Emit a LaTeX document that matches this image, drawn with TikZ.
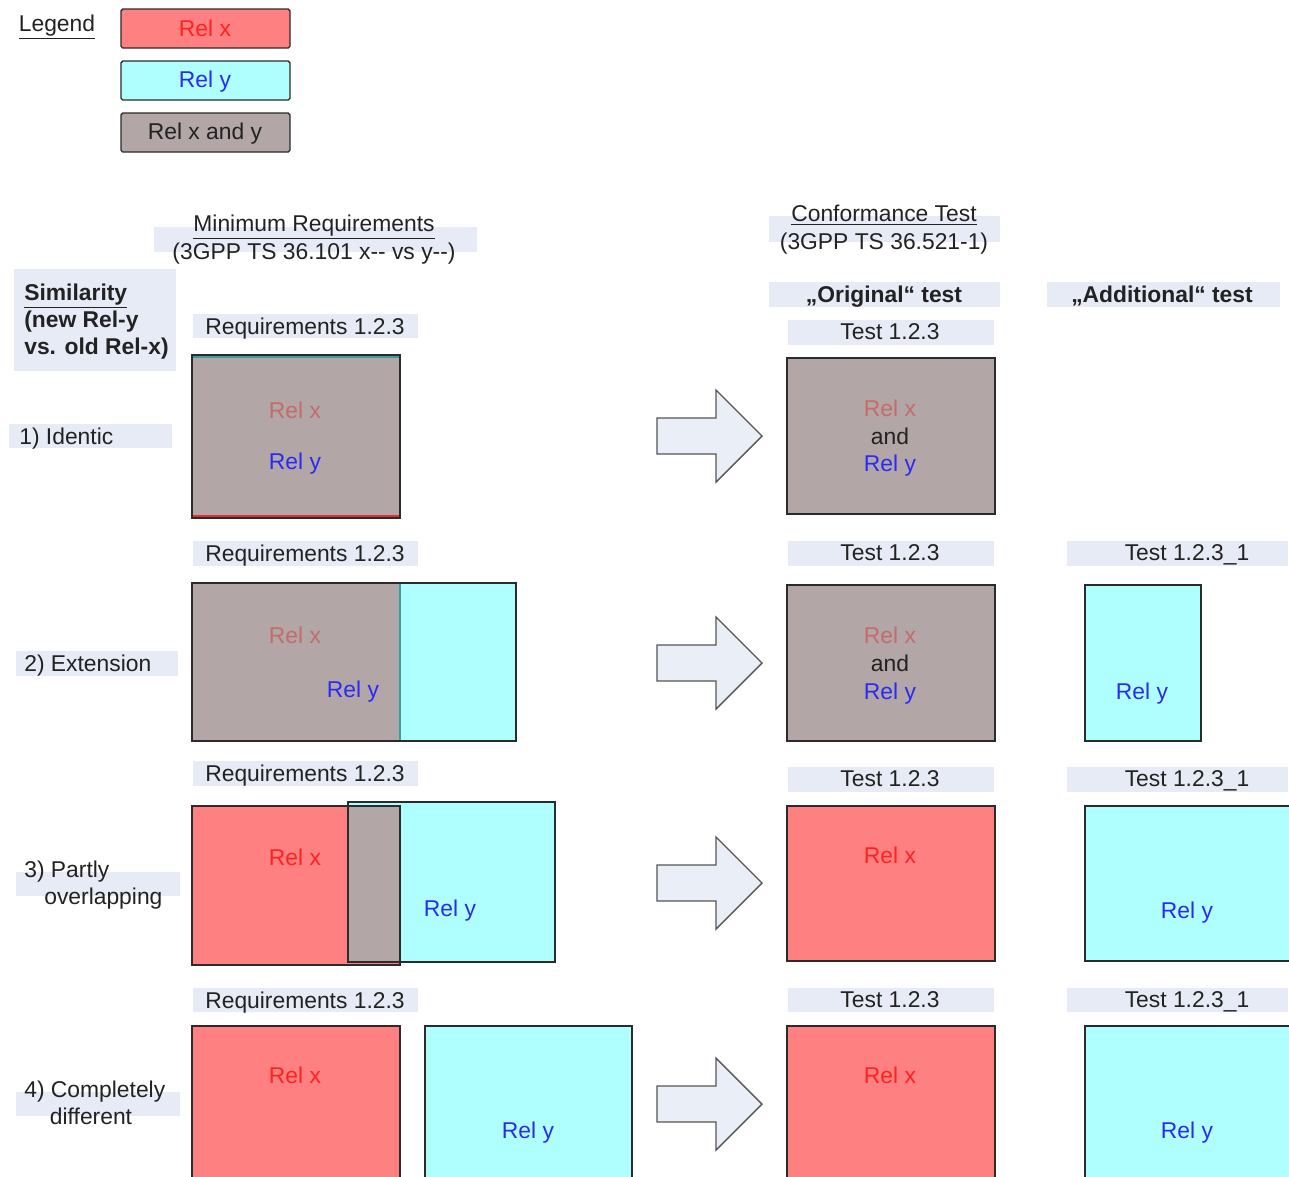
\documentclass[tikz,border=0pt]{standalone}
\usepackage{fontspec}
\setmainfont{Liberation Sans}
\definecolor{relxfill}{HTML}{FF8080}
\definecolor{relyfill}{HTML}{B0FFFF}
\definecolor{bothfill}{HTML}{B2A6A6}
\definecolor{tagbg}{HTML}{E6EBF5}
\definecolor{relxtext}{HTML}{FF2222}
\definecolor{relytext}{HTML}{2A2AF5}
\definecolor{mutedx}{HTML}{C46C6C}
\definecolor{boxline}{HTML}{2B2B2B}
\definecolor{tealline}{HTML}{3E9C9C}
\definecolor{redline}{HTML}{E03030}
\definecolor{arrowfill}{HTML}{E9EEF7}
\definecolor{arrowline}{HTML}{555555}
\definecolor{txt}{HTML}{222222}

\begin{document}
\begin{tikzpicture}[x=0.02cm, y=-0.02cm, font=\fontsize{13}{15.5}\selectfont, text=txt,
    every node/.style={text depth=0pt},
    box/.style={draw=boxline, line width=0.8pt},
    tag/.style={fill=tagbg},
    blockarrow/.style={draw=arrowline, fill=arrowfill, line width=0.8pt, line join=miter}]
    \useasboundingbox (0,0) rectangle (1289,1177);
    \clip (0,0) rectangle (1289,1177);

    % legend
    \node (legend) at (57,23) {\underline{Legend}};
    \draw[box, fill=relxfill, rounded corners=1pt] (121,9) rectangle (290,48);
    \node[text=relxtext] (legx) at (205,28) {Rel x};
    \draw[box, fill=relyfill, rounded corners=1pt] (121,61) rectangle (290,100);
    \node[text=relytext] (legy) at (205,79) {Rel y};
    \draw[box, fill=bothfill, rounded corners=1pt] (121,113) rectangle (290,152);
    \node (legxy) at (205,131) {Rel x and y};

    % column heads
    \fill[tag] (154,227) rectangle (477,252);
    \node (minreq) at (314,223) {\underline{Minimum Requirements}};
    \node (minreqts) at (314,251) {(3GPP TS 36.101 x\mbox{-}\mbox{-} vs y\mbox{-}\mbox{-})};
    \fill[tag] (769,216) rectangle (1000,242);
    \node (conf) at (884,213) {\underline{Conformance Test}};
    \node (confts) at (884,241) {(3GPP TS 36.521-1)};
    \fill[tag] (769,282) rectangle (1000,307);
    \node[font=\fontsize{13}{15.5}\selectfont\bfseries] (orig) at (884,294) {„Original“ test};
    \fill[tag] (1047,282) rectangle (1280,307);
    \node[font=\fontsize{13}{15.5}\selectfont\bfseries] (addl) at (1162,294) {„Additional“ test};

    \fill[tag] (14,269) rectangle (176,371);
    \node[font=\fontsize{13}{15.3}\selectfont\bfseries, align=left, anchor=west, inner sep=0pt] (simil) at (24,319)
        {\underline{Similarity}\\(new Rel-y\\vs. old Rel-x)};

    % arrows
    \foreach \ay in {436,663,883,1104}
        \draw[blockarrow] (657,\ay-18) -- (716,\ay-18) -- (716,\ay-46) -- (762,\ay)
            -- (716,\ay+46) -- (716,\ay+18) -- (657,\ay+18) -- cycle;

    % 1) identic
    \fill[tag] (9,424) rectangle (172,448);
    \node[anchor=west, inner sep=0pt] (row1) at (19,436) {1) Identic};
    \fill[tag] (193,314) rectangle (418,338);
    \node (req1) at (305,326) {Requirements 1.2.3};
    \draw[box, fill=bothfill] (192,355) rectangle (400,518);
    \draw[tealline, line width=1.4pt] (193,357) -- (399,357);
    \draw[redline, line width=1.4pt] (193,516) -- (399,516);
    \node[text=mutedx] (min1x) at (295,410) {Rel x};
    \node[text=relytext] (min1y) at (295,461) {Rel y};
    \fill[tag] (788,320) rectangle (994,345);
    \node (test1) at (890,332) {Test 1.2.3};
    \draw[box, fill=bothfill] (787,358) rectangle (995,514);
    \node[text=mutedx] (conf1x) at (890,408) {Rel x};
    \node (conf1and) at (890,436) {and};
    \node[text=relytext] (conf1y) at (890,463) {Rel y};

    % 2) extension
    \fill[tag] (16,651) rectangle (178,676);
    \node[anchor=west, inner sep=0pt] (row2) at (24,663) {2) Extension};
    \fill[tag] (193,541) rectangle (418,566);
    \node (req2) at (305,553) {Requirements 1.2.3};
    \draw[box, fill=relyfill] (192,583) rectangle (516,741);
    \draw[box, fill=bothfill] (192,583) rectangle (400,741);
    \draw[tealline, line width=1.2pt] (400,584) -- (400,740);
    \node[text=mutedx] (min2x) at (295,635) {Rel x};
    \node[text=relytext] (min2y) at (353,689) {Rel y};
    \fill[tag] (788,541) rectangle (994,566);
    \node (test2) at (890,553) {Test 1.2.3};
    \draw[box, fill=bothfill] (787,585) rectangle (995,741);
    \node[text=mutedx] (conf2x) at (890,635) {Rel x};
    \node (conf2and) at (890,663) {and};
    \node[text=relytext] (conf2y) at (890,691) {Rel y};
    \fill[tag] (1067,541) rectangle (1288,566);
    \node (test2a) at (1187,553) {Test 1.2.3\_1};
    \draw[box, fill=relyfill] (1085,585) rectangle (1201,741);
    \node[text=relytext] (add2y) at (1142,691) {Rel y};

    % 3) partly overlapping
    \fill[tag] (16,872) rectangle (180,896);
    \node[anchor=west, inner sep=0pt] (row3a) at (24,869) {3) Partly};
    \node[anchor=west, inner sep=0pt] (row3b) at (44,896) {overlapping};
    \fill[tag] (193,761) rectangle (418,786);
    \node (req3) at (305,773) {Requirements 1.2.3};
    \fill[relxfill] (192,806) rectangle (400,965);
    \fill[relyfill] (348,802) rectangle (555,962);
    \fill[bothfill] (348,806) rectangle (400,962);
    \draw[box] (192,806) rectangle (400,965);
    \draw[box] (348,802) rectangle (555,962);
    \node[text=relxtext] (min3x) at (295,857) {Rel x};
    \node[text=relytext] (min3y) at (450,908) {Rel y};
    \fill[tag] (788,767) rectangle (994,792);
    \node (test3) at (890,779) {Test 1.2.3};
    \draw[box, fill=relxfill] (787,806) rectangle (995,961);
    \node[text=relxtext] (conf3x) at (890,855) {Rel x};
    \fill[tag] (1067,767) rectangle (1288,792);
    \node (test3a) at (1187,779) {Test 1.2.3\_1};
    \draw[box, fill=relyfill] (1085,806) rectangle (1300,961);
    \node[text=relytext] (add3y) at (1187,910) {Rel y};

    % 4) completely different
    \fill[tag] (16,1092) rectangle (180,1116);
    \node[anchor=west, inner sep=0pt] (row4a) at (24,1089) {4) Completely};
    \node (row4b) at (91,1116) {different};
    \fill[tag] (193,988) rectangle (418,1012);
    \node (req4) at (305,1000) {Requirements 1.2.3};
    \draw[box, fill=relxfill] (192,1026) rectangle (400,1200);
    \draw[box, fill=relyfill] (425,1026) rectangle (632,1200);
    \node[text=relxtext] (min4x) at (295,1075) {Rel x};
    \node[text=relytext] (min4y) at (528,1130) {Rel y};
    \fill[tag] (788,988) rectangle (994,1012);
    \node (test4) at (890,1000) {Test 1.2.3};
    \draw[box, fill=relxfill] (787,1026) rectangle (995,1200);
    \node[text=relxtext] (conf4x) at (890,1075) {Rel x};
    \fill[tag] (1067,988) rectangle (1288,1012);
    \node (test4a) at (1187,1000) {Test 1.2.3\_1};
    \draw[box, fill=relyfill] (1085,1026) rectangle (1300,1200);
    \node[text=relytext] (add4y) at (1187,1130) {Rel y};
\end{tikzpicture}
\end{document}
